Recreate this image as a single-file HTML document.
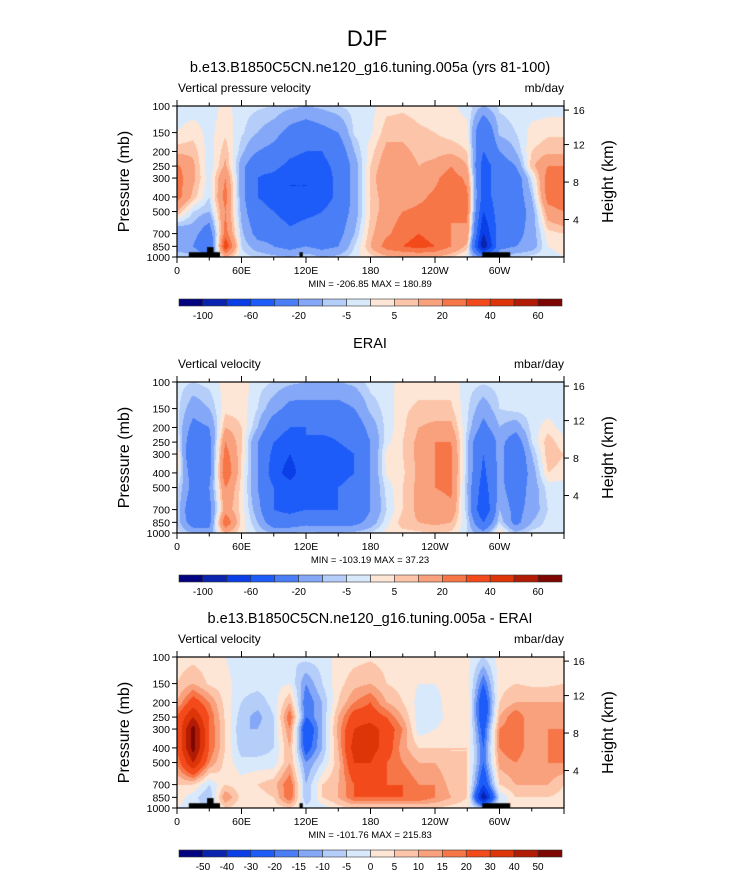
<!DOCTYPE html>
<html><head><meta charset="utf-8">
<style>
body{margin:0;background:#fff;font-family:"Liberation Sans",sans-serif;}
#root{position:relative;width:733px;height:873px;overflow:hidden;background:#fff;}
svg text{font-family:"Liberation Sans",sans-serif;}
canvas{position:absolute;}
</style></head>
<body>
<div id="root">
<canvas id="c0" width="387" height="151" style="left:177px;top:106px"></canvas>
<canvas id="c1" width="387" height="151" style="left:177px;top:382px"></canvas>
<canvas id="c2" width="387" height="151" style="left:177px;top:657px"></canvas>
<svg id="ov" width="733" height="873" style="position:absolute;left:0;top:0"></svg>
</div>
<script>
// ---- data ----
const lons = [0,15,30,45,60,75,90,105,120,135,150,165,180,195,210,225,240,255,270,285,300,315,330,345,360];
const pLevels = [100,150,200,250,300,400,500,700,850,1000];
const xTickLabels = ["0","60E","120E","180","120W","60W"];
const heightTicks = [4,8,12,16];
const levelsAbs = [-100,-80,-60,-40,-20,-10,-5,0,5,10,20,30,40,50,60];
const levelsDiff = [-50,-40,-30,-20,-15,-10,-5,0,5,10,15,20,30,40,50];
const labelsAbs = ["-100","","-60","","-20","","-5","","5","","20","","40","","60"];
const labelsDiff = ["-50","-40","-30","-20","-15","-10","-5","0","5","10","15","20","30","40","50"];
const colors = ["#03037f","#0a24b0","#0a3ee6","#1d5cf8","#4a7ef7","#84a8f7","#b5cdf9","#d9e9fc","#fde6d5","#fcc5aa","#f9a07c","#f77648","#f34a1c","#dd3408","#b31c04","#7d0602"];
// values[lonIndex] = column over pLevels (mb/day)
const modelVals = [
[-3,0,8,22,25,25,10,-20,-15,-5],[-3,3,8,12,12,8,-5,-15,-20,-5],[-3,-2,-3,-5,-3,-5,-10,-30,-40,-20],
[2,4,8,12,20,25,20,25,40,10],[-3,-4,-8,-15,-15,-15,-12,-8,-5,-3],[-4,-10,-20,-35,-40,-40,-35,-25,-15,-5],
[-5,-15,-25,-35,-45,-45,-40,-25,-20,-8],[-8,-25,-35,-45,-60,-60,-50,-35,-25,-10],[-10,-30,-40,-50,-60,-60,-45,-30,-20,-5],
[-8,-25,-40,-45,-50,-50,-40,-30,-25,-10],[-5,-20,-30,-35,-35,-35,-30,-25,-20,-8],[-3,-4,-10,-15,-15,-15,-15,-10,-5,-2],
[-2,-1,3,5,5,5,5,8,10,3],[3,8,12,15,20,15,15,18,25,8],[4,8,12,15,15,15,20,25,30,10],
[3,6,8,10,12,18,22,30,35,10],[2,5,8,12,18,22,22,25,30,10],[1,3,8,20,25,25,20,20,20,5],
[-2,2,5,10,18,22,22,18,8,-2],[-10,-40,-40,-50,-50,-50,-60,-80,-100,-20],[-4,-8,-20,-30,-30,-30,-30,-30,-25,-10],
[-3,-5,-10,-20,-30,-30,-30,-25,-20,-5],[-3,2,5,8,-3,-10,-15,-15,-15,-3],[-3,4,8,20,25,25,15,3,0,-2],
[-3,4,8,20,25,30,20,5,2,0]];
const eraiVals = [
[-3,-3,-3,2,5,3,-3,-5,-5,-3],[-5,-15,-25,-35,-40,-30,-25,-35,-30,-10],[-3,-10,-20,-25,-25,-25,-20,-25,-25,-15],
[2,3,10,20,25,30,20,15,30,10],[3,3,5,5,5,4,3,3,3,2],[-3,-5,-10,-20,-20,-20,-20,-15,-10,-5],
[-5,-15,-30,-40,-45,-50,-40,-40,-30,-10],[-8,-25,-40,-50,-60,-70,-50,-45,-30,-10],[-10,-25,-40,-40,-45,-45,-45,-40,-25,-8],
[-10,-25,-35,-45,-50,-50,-45,-40,-25,-10],[-10,-25,-35,-40,-45,-45,-40,-40,-25,-10],[-8,-20,-30,-35,-40,-40,-35,-35,-25,-8],
[-3,-8,-15,-20,-20,-20,-20,-20,-15,-5],[-2,-3,-3,-2,2,1,-3,-5,-2,2],[2,4,4,5,5,4,5,5,8,3],
[3,6,10,12,12,12,12,12,10,4],[3,6,12,20,20,20,20,15,12,5],[3,6,12,20,22,22,22,18,10,4],
[-3,-4,-5,-8,-8,-8,-10,-8,-5,-5],[-4,-15,-25,-40,-40,-45,-50,-60,-40,-15],[-3,-5,-10,-15,-15,-15,-15,-10,-5,5],
[-3,-3,-15,-30,-35,-35,-30,-25,-25,-8],[-3,-3,-3,-5,-10,-15,-15,-15,-10,-3],[-3,-3,3,8,8,5,-3,-5,-3,-2],
[-3,-3,-3,2,5,3,-3,-5,-5,-3]];
const diffVals = [
[2,5,10,20,20,20,15,5,3,0],[3,10,25,40,55,55,40,5,-3,-3],[2,4,15,20,20,20,15,-5,-10,-5],
[0,2,3,4,5,5,3,5,15,5],[-3,-3,-5,-8,-10,-8,-3,2,3,2],[0,-3,-8,-12,-10,-8,-3,5,3,2],
[0,-2,-3,-5,-5,-5,-3,8,5,2],[-5,0,10,20,15,10,10,20,20,5],[-3,-15,-20,-20,-30,-25,-15,-10,-10,-3],
[-3,-5,-10,-10,-10,-10,-5,5,5,-3],[2,3,5,10,12,10,8,10,10,3],[3,8,15,25,30,35,30,20,20,5],
[4,10,20,25,35,35,30,25,20,5],[3,5,10,20,25,25,20,20,20,5],[2,3,5,10,15,12,15,20,20,5],
[1,0,-2,-3,-3,5,10,15,20,5],[1,0,-3,-3,0,5,10,15,15,5],[2,3,4,3,3,5,5,8,10,3],
[1,3,5,5,5,5,5,5,5,2],[-5,-20,-30,-30,-25,-20,-20,-30,-50,-10],[2,3,5,10,15,15,12,5,-5,0],
[2,5,10,20,20,20,15,10,5,2],[2,4,10,10,10,10,10,10,5,2],[2,4,10,12,15,15,15,10,5,2],
[2,5,10,15,15,18,15,5,3,0]];
// land mask boxes [lon0, lon1, pTop]
const landBoxes = [[11,40,930],[28,34,860],[114,117,930],[284,310,930]];

// ---- rendering ----
const W=387,H=151,X0=177;
const lnT=Math.log(100),lnB=Math.log(1000);
function yOfP(p){return (Math.log(p)-lnT)/(lnB-lnT)*H;}
function xOfLon(l){return l/360*W;}
function binOf(v,lev){let i=0;while(i<lev.length&&v>=lev[i])i++;return i;}
function hex(h){return [parseInt(h.slice(1,3),16),parseInt(h.slice(3,5),16),parseInt(h.slice(5,7),16)];}
const rgb=colors.map(hex);
const pY=pLevels.map(yOfP);
function draw(id,vals,lev,land){
  const cv=document.getElementById(id),ctx=cv.getContext('2d');
  const img=ctx.createImageData(W,H);
  for(let py=0;py<H;py++){
    const yy=py+0.5;let k=0;while(k<pY.length-2&&yy>pY[k+1])k++;
    const ty=Math.min(1,Math.max(0,(yy-pY[k])/(pY[k+1]-pY[k])));
    for(let px=0;px<W;px++){
      const lon=(px+0.5)/W*360;let j=Math.min(lons.length-2,Math.floor(lon/15));
      const tx=(lon-lons[j])/(lons[j+1]-lons[j]);
      const a=vals[j][k]*(1-ty)+vals[j][k+1]*ty,b=vals[j+1][k]*(1-ty)+vals[j+1][k+1]*ty;
      const c=rgb[binOf(a*(1-tx)+b*tx,lev)];const o=(py*W+px)*4;
      img.data[o]=c[0];img.data[o+1]=c[1];img.data[o+2]=c[2];img.data[o+3]=255;
    }
  }
  ctx.putImageData(img,0,0);
  if(land){ctx.fillStyle='#000';landBoxes.forEach(b=>{const x=xOfLon(b[0]),y=yOfP(b[2]);ctx.fillRect(x,y,xOfLon(b[1])-x,H-y);});}
}
draw('c0',modelVals,levelsAbs,true);
draw('c1',eraiVals,levelsAbs,false);
draw('c2',diffVals,levelsDiff,true);

const NS='http://www.w3.org/2000/svg',ov=document.getElementById('ov');
function el(tag,at,txt){const e=document.createElementNS(NS,tag);for(const k in at)e.setAttribute(k,at[k]);if(txt!==undefined)e.textContent=txt;ov.appendChild(e);return e;}
function txt(x,y,s,size,anchor,name,extra){const e=el('text',Object.assign({x:x,y:y,'font-size':size,'text-anchor':anchor||'middle',fill:'#000'},extra||{}),s);return e;}
function line(x1,y1,x2,y2,name){const e=el('line',{x1,y1,x2,y2,stroke:'#000','stroke-width':1});return e;}

txt(367,46,'DJF',22,'middle','figure-title');
const panels=[
 {top:106,title:'b.e13.B1850C5CN.ne120_g16.tuning.005a (yrs 81-100)',left:'Vertical pressure velocity',unit:'mb/day',mm:'MIN = -206.85  MAX = 180.89',cb:299,levLabels:labelsAbs},
 {top:382,title:'ERAI',left:'Vertical velocity',unit:'mbar/day',mm:'MIN = -103.19  MAX =  37.23',cb:575,levLabels:labelsAbs},
 {top:657,title:'b.e13.B1850C5CN.ne120_g16.tuning.005a - ERAI',left:'Vertical velocity',unit:'mbar/day',mm:'MIN = -101.76  MAX = 215.83',cb:850,levLabels:labelsDiff}];
panels.forEach((P,pi)=>{
  const T=P.top,B=T+H,R=X0+W;
  txt(370,T-34,P.title,14.5,'middle','panel-title-'+pi);
  txt(X0+1,T-14,P.left,12,'start','left-string-'+pi);
  txt(R,T-14,P.unit,12,'end','units-string-'+pi);
  const f=el('rect',{x:X0,y:T,width:W,height:H,fill:'none',stroke:'#000','stroke-width':1.2});
  
  for(let l=0;l<=360;l+=30){const x=X0+xOfLon(l),len=(l%60===0)?6:3.5;
    line(x,T,x,T-len,'top-tick');line(x,B,x,B+len,'bottom-tick');
    if(l%60===0&&l<360)txt(x,B+17,xTickLabels[l/60],10.5,'middle','x-tick-label');}
  pLevels.forEach(p=>{const y=T+yOfP(p);line(X0,y,X0-5,y,'y-tick');txt(X0-7,y+4,String(p),10.5,'end','y-tick-label');});
  heightTicks.forEach(h=>{const p=1000*Math.exp(-h/7);const y=T+yOfP(p)+(h===16?3:0);line(R,y,R+5,y,'height-tick');txt(R+9,y+4,String(h),10.5,'start','height-tick-label');});
  txt(129,T+H/2,'Pressure (mb)',16,'middle','y-axis-title',{transform:'rotate(-90 129 '+(T+H/2)+')'});
  txt(613,T+H/2,'Height (km)',16,'middle','right-axis-title',{transform:'rotate(-90 613 '+(T+H/2)+')'});
  txt(370,B+30,P.mm,9.5,'middle','min-max-label');
  const cx=179,cw=383/16;
  colors.forEach((c,i)=>{const r=el('rect',{x:cx+i*cw,y:P.cb,width:cw,height:7,fill:c,stroke:'#333','stroke-width':0.6});
    });
  P.levLabels.forEach((s,i)=>{if(s)txt(cx+(i+1)*cw,P.cb+20,s,10,'middle','colorbar-label');});
});
</script>
</body></html>
